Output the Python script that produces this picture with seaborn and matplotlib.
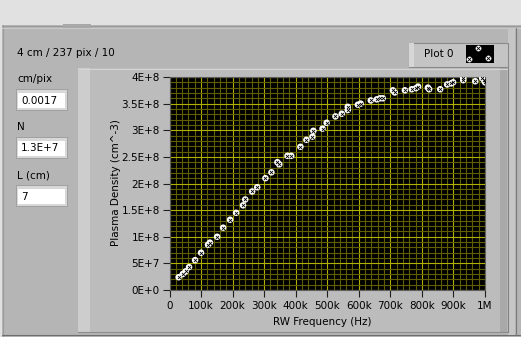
import matplotlib
matplotlib.use("Agg")
import matplotlib.pyplot as plt
import seaborn as sns
import pandas as pd
from matplotlib.patches import Rectangle
from matplotlib.lines import Line2D
from matplotlib.ticker import MultipleLocator, FixedLocator, FuncFormatter

# ---- data ----
freq_khz = [29, 42, 51, 62, 81, 100, 122, 128, 151, 170, 192, 211, 233, 240, 262,
            278, 304, 323, 342, 348, 374, 386, 415, 434, 453, 456, 485, 498, 526,
            546, 565, 565, 597, 606, 638, 657, 667, 676, 708, 714, 746, 768, 781,
            788, 819, 823, 858, 880, 893, 899, 931, 931, 969, 991, 997, 1000]
density_e8 = [0.24, 0.30, 0.35, 0.43, 0.56, 0.70, 0.85, 0.89, 1.00, 1.17, 1.32,
              1.45, 1.59, 1.70, 1.85, 1.93, 2.10, 2.21, 2.40, 2.36, 2.52, 2.52,
              2.69, 2.82, 2.88, 2.99, 3.03, 3.14, 3.26, 3.31, 3.38, 3.44, 3.48,
              3.50, 3.56, 3.58, 3.60, 3.60, 3.75, 3.71, 3.75, 3.77, 3.79, 3.82,
              3.80, 3.77, 3.77, 3.86, 3.88, 3.90, 3.94, 3.98, 3.92, 3.98, 3.94, 3.90]
x_ticks = [0, 100e3, 200e3, 300e3, 400e3, 500e3, 600e3, 700e3, 800e3, 900e3, 1e6]
x_tick_labels = ["0", "100k", "200k", "300k", "400k", "500k", "600k", "700k",
                 "800k", "900k", "1M"]
y_ticks = [0, 5e7, 1e8, 1.5e8, 2e8, 2.5e8, 3e8, 3.5e8, 4e8]
y_tick_labels = ["0E+0", "5E+7", "1E+8", "1.5E+8", "2E+8", "2.5E+8", "3E+8",
                 "3.5E+8", "4E+8"]
header_text = "4 cm / 237 pix / 10"
controls = [("cm/pix", "0.0017"), ("N", "1.3E+7"), ("L (cm)", "7")]

df = pd.DataFrame({"freq": [f * 1e3 for f in freq_khz],
                   "dens": [d * 1e8 for d in density_e8]})

sns.set_theme(style="white")
plt.rcParams['font.family'] = ['DejaVu Sans']
FS = 7.5

W, H = 521, 337
fig = plt.figure(figsize=(W / 100, H / 100), dpi=100)
fig.patch.set_facecolor("#e1e1e1")


def fx(x):
    return x / W


def fy(y):
    return 1 - y / H


def rect(x0, y0, x1, y1, fc, ec="none", lw=0, z=0):
    fig.add_artist(Rectangle((fx(x0), fy(y1)), fx(x1) - fx(x0), fy(y0) - fy(y1),
                             transform=fig.transFigure, facecolor=fc,
                             edgecolor=ec, linewidth=lw, zorder=z))


def hline(x0, x1, y, c, z=1):
    fig.add_artist(Line2D([fx(x0), fx(x1)], [fy(y), fy(y)], transform=fig.transFigure,
                          color=c, linewidth=0.8, zorder=z))


def vline(x, y0, y1, c, z=1):
    fig.add_artist(Line2D([fx(x), fx(x)], [fy(y0), fy(y1)], transform=fig.transFigure,
                          color=c, linewidth=0.8, zorder=z))


# outer panel
rect(2, 25, W, 337, "#b5b5b5", z=0)
hline(2, W, 25.5, "#9a9a9a")
vline(2.5, 25, 337, "#9a9a9a")
hline(2, W, 28, "#c8c8c8")
# small tab at top
rect(63, 24, 91, 28, "#a8a8a8", z=1)
# bottom edge
hline(2, W, 335, "#6e6e6e")
# right panel edge
rect(508, 28, 515, 335, "#c6c6c6", z=1)
vline(515.5, 28, 335, "#7a7a7a")

# graph frame
rect(78, 68, 508, 332, "#bcbcbc", z=0.5)
rect(78, 68, 90, 332, "#cdcdcd", z=0.6)
hline(78, 508, 68.5, "#d4d4d4")
hline(78, 508, 331.5, "#8c8c8c")
rect(500, 68, 507, 332, "#a9a9a9", z=0.6)
vline(507.5, 68, 332, "#808080")

# header text
fig.text(fx(17), fy(53), header_text, fontsize=FS, ha="left", va="center", color="black")

# controls
ys = [79, 127, 175]
for (lab, val), yl in zip(controls, ys):
    fig.text(fx(17), fy(yl), lab, fontsize=FS, ha="left", va="center", color="black")
    bt = yl + 10
    rect(16, bt, 68, bt + 22, "#a0a0a0", z=1)
    rect(17, bt + 1, 67, bt + 21, "#d8d8d8", z=1.1)
    rect(18, bt + 4, 65, bt + 19, "white", z=1.2)
    fig.text(fx(21), fy(bt + 11.5), val, fontsize=FS, ha="left", va="center",
             color="black", zorder=2)

# legend box
rect(409, 43, 508, 67, "#c4c4c4", ec="#8a8a8a", lw=0.8, z=1)
rect(409, 43, 414, 67, "#d6d6d6", z=1.1)
fig.text(fx(424), fy(54), "Plot 0", fontsize=FS, ha="left", va="center", color="black",
         zorder=2)
rect(466, 45, 494, 63, "black", z=2)
for (mx, my) in [(478, 48), (469, 59), (488, 58)]:
    fig.add_artist(Line2D([fx(mx)], [fy(my)], transform=fig.transFigure, marker="o",
                          markersize=4.2, markerfacecolor="white",
                          markeredgecolor="none", linestyle="none", zorder=3))
    fig.add_artist(Line2D([fx(mx)], [fy(my)], transform=fig.transFigure, marker="x",
                          markersize=2.2, markeredgecolor="black", markeredgewidth=0.6,
                          linestyle="none", zorder=4))

# ---- plot axes ----
ax_l, ax_r, ax_t, ax_b = 169.5, 485, 77, 290
ax = fig.add_axes([fx(ax_l), fy(ax_b), fx(ax_r) - fx(ax_l), fy(ax_t) - fy(ax_b)])
ax.set_zorder(5)
ax.set_facecolor("black")

sns.scatterplot(data=df, x="freq", y="dens", ax=ax, marker="o", s=22, color="white",
                edgecolor="none", linewidth=0, zorder=3, legend=False)
sns.scatterplot(data=df, x="freq", y="dens", ax=ax, marker="x", s=5, color="black",
                linewidth=0.6, zorder=4, legend=False)

ax.set_xlim(0, 1e6)
ax.set_ylim(0, 4e8)
ax.xaxis.set_major_locator(FixedLocator(x_ticks))
ax.yaxis.set_major_locator(FixedLocator(y_ticks))
ax.set_xticklabels(x_tick_labels)
ax.set_yticklabels(y_tick_labels)
ax.xaxis.set_minor_locator(MultipleLocator(20e3))
ax.yaxis.set_minor_locator(MultipleLocator(1e7))
ax.grid(which="minor", color="#5f5f00", linewidth=0.8, zorder=1)
ax.grid(which="major", color="#b0b000", linewidth=0.8, zorder=2)
ax.set_axisbelow(True)
ax.tick_params(which="major", direction="out", length=5, width=0.8, color="#202020",
               labelsize=FS, labelcolor="black", pad=2, bottom=True, left=True)
ax.tick_params(axis="x", pad=3)
ax.tick_params(which="minor", length=0)
for s in ax.spines.values():
    s.set_color("#606060")
    s.set_linewidth(0.8)

ax.set_xlabel("")
ax.set_ylabel("")
fig.text(fx(322), fy(322), "RW Frequency (Hz)", fontsize=FS, ha="center", va="center",
         color="black")
fig.text(fx(116), fy(183), "Plasma Density (cm^-3)", fontsize=FS, ha="center",
         va="center", rotation=90, color="black")

fig.savefig("out.png", dpi=100, facecolor=fig.get_facecolor())
